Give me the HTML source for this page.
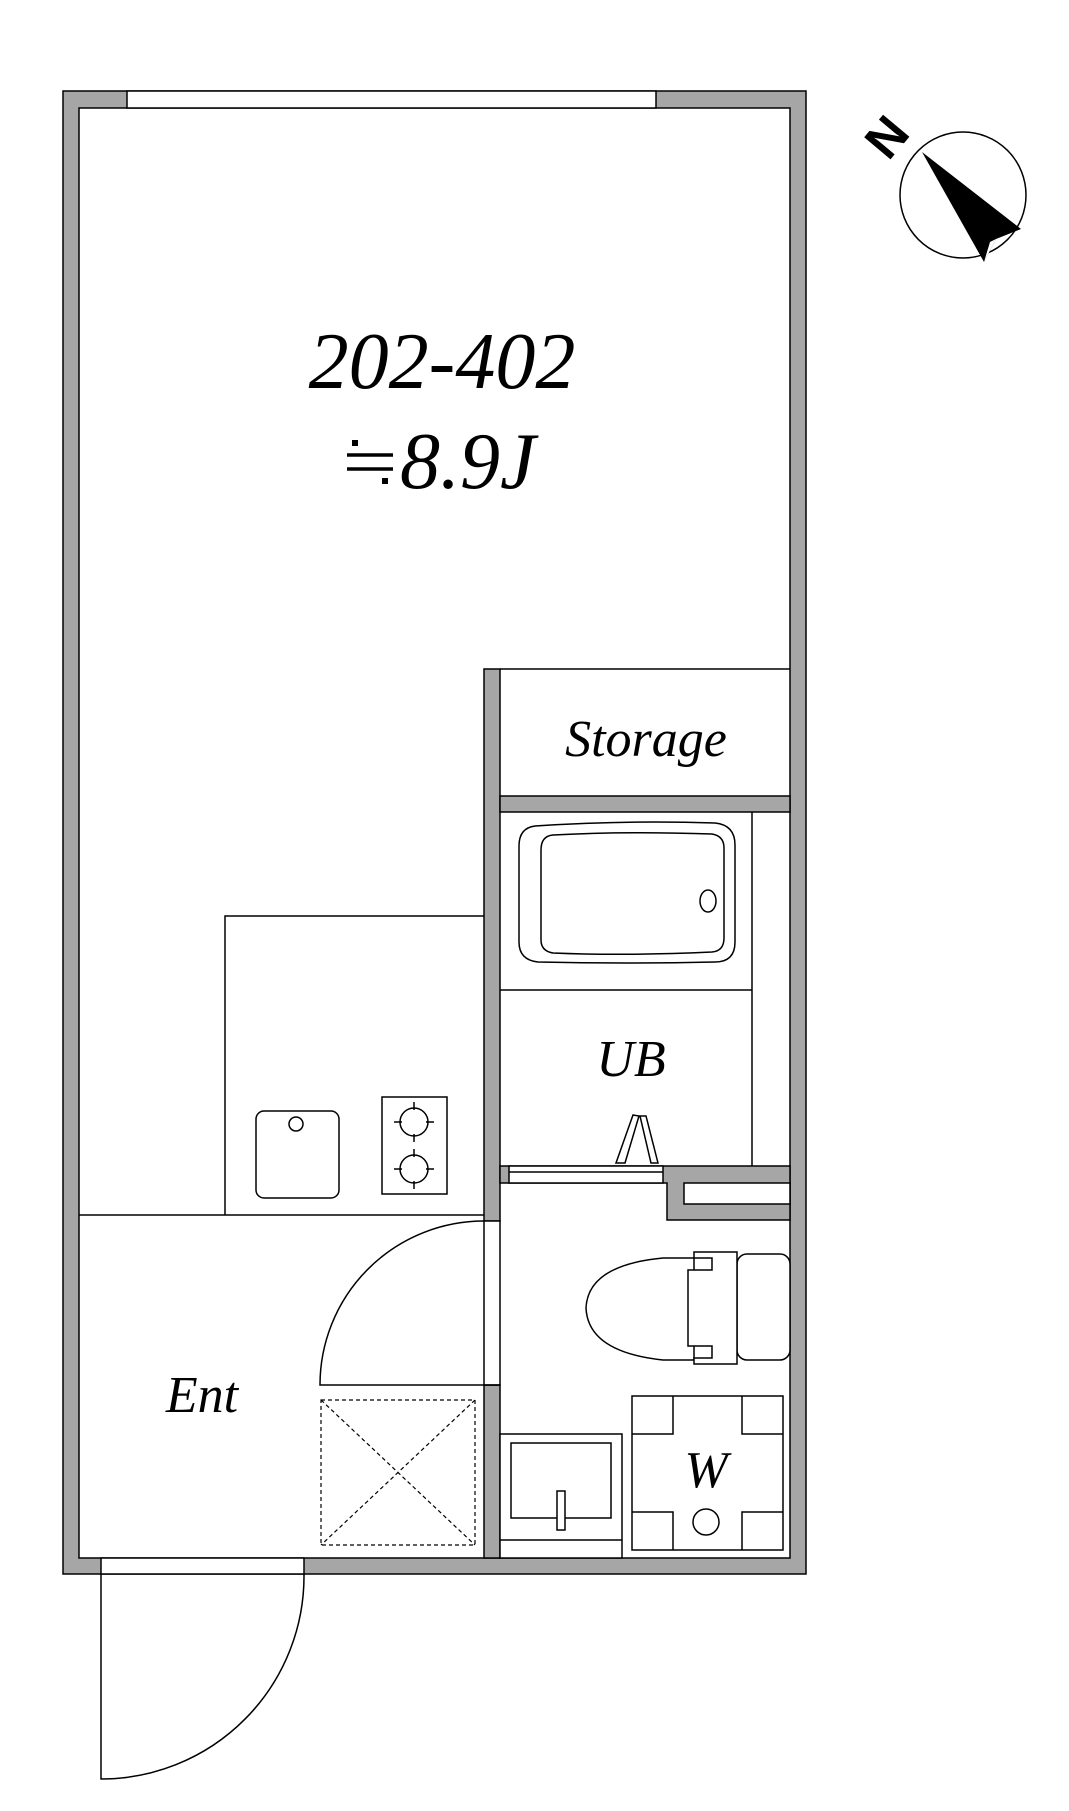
<!DOCTYPE html>
<html><head><meta charset="utf-8"><style>
html,body{margin:0;padding:0;background:#fff;width:1069px;height:1811px;overflow:hidden}
svg{display:block}
text{font-family:"Liberation Serif",serif;font-style:italic;fill:#000}
</style></head><body>
<svg width="1069" height="1811" viewBox="0 0 1069 1811" xmlns="http://www.w3.org/2000/svg">
<g stroke="#000" stroke-width="1.5">
<path fill="#a6a6a6" fill-rule="evenodd" d="M63 91H806V1574H63Z M79 108V1558H790V108Z"/>
<rect x="127" y="91" width="529" height="17" fill="#fff"/>
<rect x="101" y="1558" width="203" height="16" fill="#fff"/>
<!-- partition wall -->
<rect x="484" y="669" width="16" height="552" fill="#a6a6a6"/>
<rect x="484" y="1385" width="16" height="173" fill="#a6a6a6"/>
<rect x="484" y="1221" width="16" height="164" fill="#fff"/>
<!-- storage -->
<line x1="500" y1="669" x2="790" y2="669"/>
<rect x="500" y="796" width="290" height="16" fill="#a6a6a6"/>
<!-- UB bottom wall -->
<path fill="#a6a6a6" d="M500 1166H790V1220H667V1183H500Z"/>
<rect x="684" y="1183" width="106" height="21" fill="#fff"/>
<rect x="509" y="1166" width="154" height="17" fill="#fff"/>
<line x1="509" y1="1172" x2="663" y2="1172"/>
<!-- UB lines -->
<line x1="752" y1="812" x2="752" y2="1166"/>
<line x1="500" y1="990" x2="752" y2="990"/>
<!-- bathtub -->
<path fill="#fff" d="M535 826Q625 820 715 823Q735 825 735 845V942Q735 962 715 962Q625 964 538 962Q519 960 519 942V846Q519 828 535 826Z"/>
<path fill="#fff" d="M553 835Q625 831 712 834Q724 836 724 848V938Q724 951 712 952Q625 956 553 953Q541 951 541 940V850Q541 836 553 835Z"/>
<ellipse cx="708" cy="901" rx="8" ry="11" fill="#fff"/>
<!-- UB door symbol -->
<path fill="none" d="M616 1163L633 1115L639 1116L625 1163Z M658 1163L646 1116L640 1116L651 1163Z"/>
<!-- kitchen -->
<path fill="none" d="M225 1215V916H484"/>
<line x1="79" y1="1215" x2="484" y2="1215"/>
<rect x="256" y="1111" width="83" height="87" rx="8" fill="#fff"/>
<circle cx="296" cy="1124" r="7" fill="#fff"/>
<rect x="382" y="1097" width="65" height="97" fill="#fff"/>
<circle cx="414" cy="1122" r="14" fill="none"/>
<circle cx="414" cy="1169" r="14" fill="none"/>
<path d="M414 1102V1110M414 1134V1142M394 1122H402M426 1122H434M414 1149V1157M414 1181V1189M394 1169H402M426 1169H434"/>
<!-- inner door -->
<path fill="none" d="M500 1385H320A164 164 0 0 1 484 1221"/>
<!-- shoe box -->
<rect x="321" y="1400" width="154" height="145" fill="none" stroke-dasharray="4 3" stroke-width="1.2"/>
<path d="M321 1400L475 1545M475 1400L321 1545" stroke-dasharray="4 3" stroke-width="1.2"/>
<!-- entrance door -->
<path fill="none" d="M101 1574V1779A203 203 0 0 0 304 1574"/>
<!-- toilet -->
<rect x="737" y="1254" width="53" height="106" rx="10" fill="#fff"/>
<path fill="#fff" d="M694 1258H663Q588 1265 586 1308Q588 1352 663 1360H694Z"/>
<path fill="#fff" d="M694 1252H737V1364H694V1358H712V1346H688V1270H712V1258H694Z"/>
<!-- washbasin -->
<rect x="500" y="1434" width="122" height="124" fill="#fff"/>
<rect x="511" y="1443" width="100" height="75" fill="#fff"/>
<line x1="500" y1="1540" x2="622" y2="1540"/>
<rect x="557" y="1491" width="8" height="39" fill="#fff"/>
<!-- washer -->
<rect x="632" y="1396" width="151" height="154" fill="#fff"/>
<path fill="none" d="M632 1434H673V1396M783 1434H742V1396M632 1512H673V1550M783 1512H742V1550"/>
<circle cx="706" cy="1522" r="13" fill="#fff"/>
<!-- compass -->
<circle cx="963" cy="195" r="63" fill="#fff"/>
<path d="M922 152L1021 229L996 239L984 262Z" fill="#000" stroke="none"/>
<path d="M996 239L984 262L990 242Z" fill="#fff" stroke="none"/>
</g>
<text x="0" y="0" font-size="50" text-anchor="middle" style="font-family:'Liberation Sans',sans-serif;font-style:normal;font-weight:bold" transform="translate(900,148) rotate(-50)">N</text>
<text x="442" y="388" font-size="80" text-anchor="middle">202-402</text>
<g stroke="#000" stroke-width="3.5"><line x1="347" y1="455" x2="393" y2="455"/><line x1="347" y1="469" x2="393" y2="469"/></g>
<rect x="352" y="440" width="6" height="6" fill="#000"/><rect x="382" y="478" width="6" height="6" fill="#000"/>
<text x="400" y="488" font-size="80">8.9J</text>
<text x="646" y="756" font-size="52" text-anchor="middle">Storage</text>
<text x="631" y="1076" font-size="52" text-anchor="middle">UB</text>
<text x="202" y="1412" font-size="52" text-anchor="middle">Ent</text>
<text x="706" y="1487" font-size="52" text-anchor="middle">W</text>
</svg>
</body></html>
